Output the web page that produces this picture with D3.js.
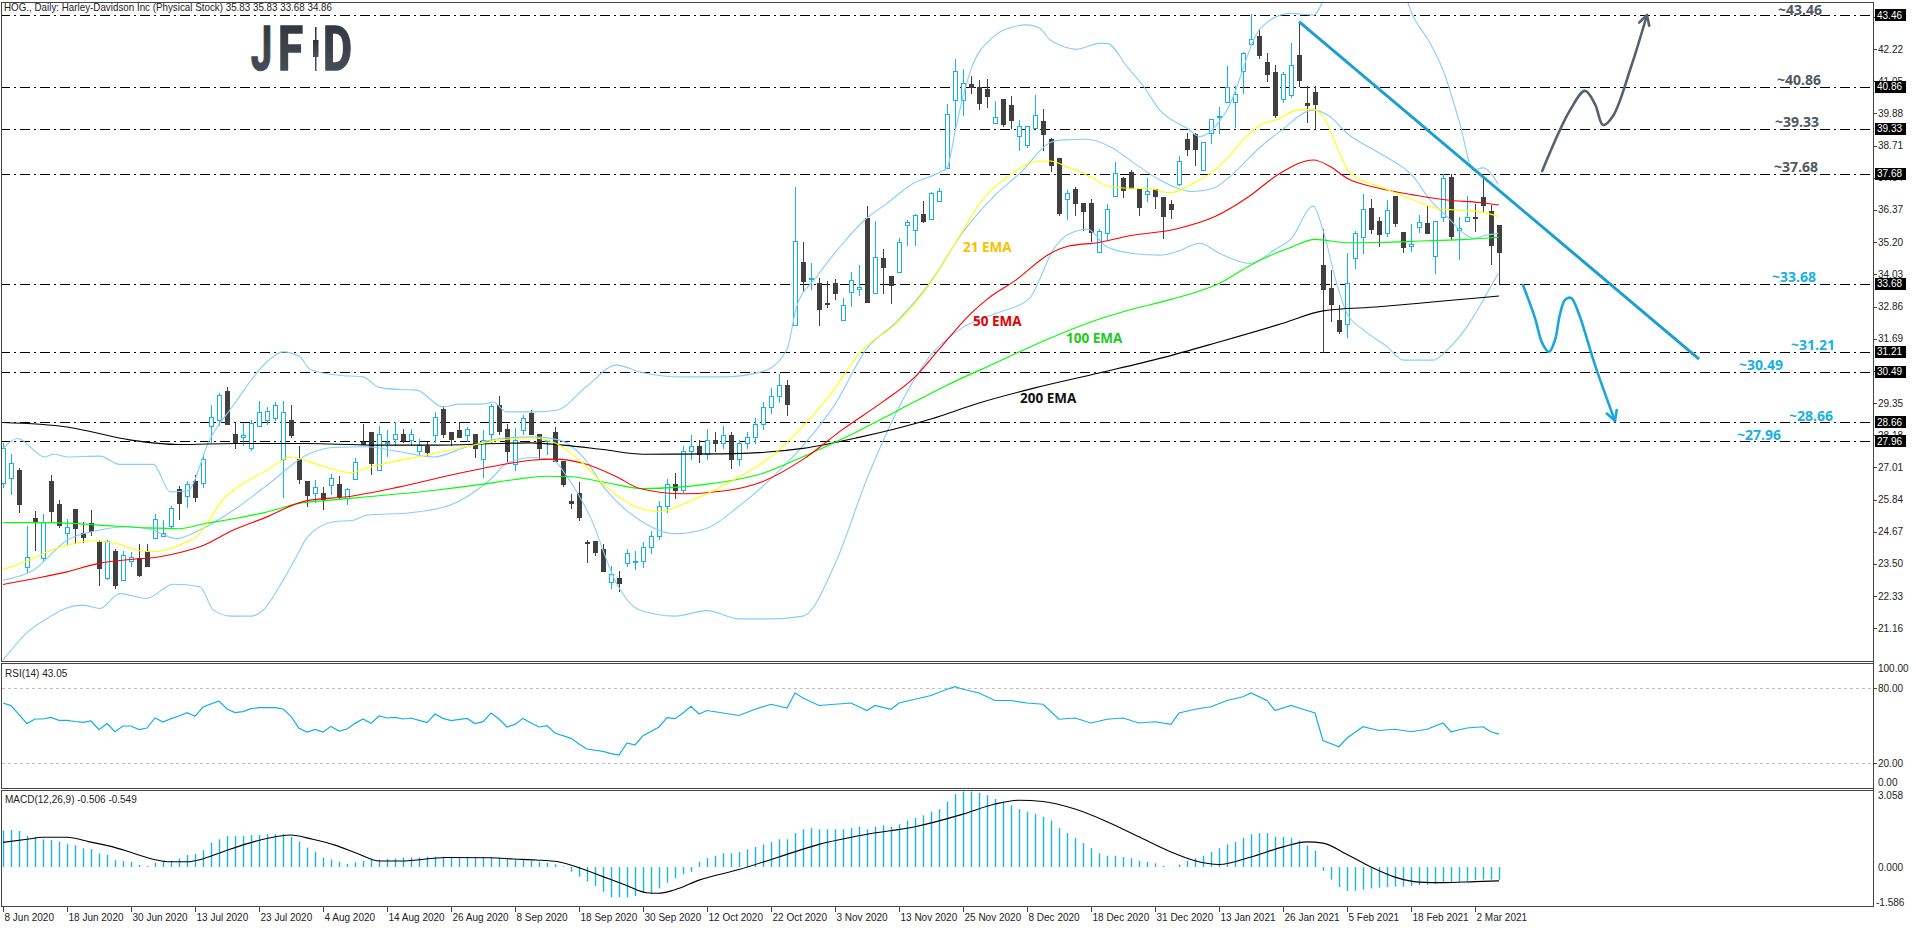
<!DOCTYPE html>
<html><head><meta charset="utf-8">
<script src="https://cdn.jsdelivr.net/npm/d3@7"></script>
<style>body{margin:0;background:#fff;overflow:hidden}svg{display:block}</style>
</head><body><svg id="c" width="1916" height="928"></svg>
<script>
// ---------------- DATA ----------------
const opens = [26.43,26.61,26.91,23.37,25.17,23.73,26.50,25.68,24.61,25.48,24.62,24.98,24.29,23.00,23.98,22.90,23.61,23.70,23.96,24.46,24.50,24.89,26.24,25.98,26.50,26.45,28.53,28.72,29.78,28.22,28.13,27.73,28.52,28.75,28.79,27.30,28.73,27.30,26.50,26.08,26.07,26.36,26.40,25.88,26.57,27.93,28.29,26.93,27.93,28.06,28.21,27.99,27.62,27.79,28.19,29.12,28.28,28.36,28.17,28.24,27.33,28.24,29.26,28.42,27.12,28.36,28.97,28.24,27.96,28.28,27.25,25.78,26.07,24.29,24.33,24.06,22.86,22.98,23.55,23.59,23.60,24.10,24.50,25.60,26.40,26.20,27.60,27.80,27.50,28.00,27.90,28.20,27.30,27.90,28.10,28.60,29.20,29.60,30.00,32.17,34.48,33.85,33.70,32.97,33.70,32.36,33.38,33.48,36.07,33.34,34.61,33.96,34.10,35.81,35.63,36.21,36.05,36.70,37.88,40.36,40.37,40.94,40.84,40.76,39.52,40.41,40.18,39.05,38.75,39.36,39.61,38.96,38.26,36.76,37.13,36.62,36.62,34.83,35.53,36.87,37.52,37.74,37.13,36.94,37.13,36.83,36.59,37.33,38.95,39.13,37.84,39.16,39.76,40.31,40.31,41.41,42.42,42.68,41.75,41.39,40.42,40.54,42.01,40.25,40.65,34.37,33.52,32.37,32.21,34.64,35.40,36.43,35.97,35.52,36.88,35.56,35.07,35.74,35.88,34.69,36.13,37.57,35.63,35.98,36.10,36.84,36.33,35.83];
const highs = [27.90,27.50,27.00,24.88,25.42,25.31,26.73,25.82,25.15,25.48,25.03,25.45,24.36,24.38,24.04,23.96,23.94,24.21,24.21,25.31,25.08,25.62,26.33,26.51,26.75,27.48,29.27,29.72,29.94,28.63,28.64,28.75,29.41,29.20,29.38,29.42,29.27,27.78,26.50,26.56,26.29,26.76,26.69,26.25,27.35,28.58,28.29,28.53,28.36,28.65,28.42,28.40,28.06,27.95,29.02,29.25,28.28,28.65,28.47,28.24,28.36,29.31,29.60,28.58,28.44,28.91,29.09,28.24,28.02,28.48,27.25,26.04,26.46,24.36,24.33,24.24,23.42,23.24,24.04,23.96,24.30,24.70,25.80,26.60,26.80,27.80,28.20,28.00,28.40,28.30,28.50,28.30,28.00,28.30,28.80,29.40,29.90,30.40,30.20,37.22,35.20,34.43,33.88,33.79,33.85,33.16,34.11,34.36,36.51,35.97,34.95,33.96,35.34,36.00,36.22,36.68,37.02,37.16,40.22,41.85,41.50,41.24,41.10,41.13,40.33,40.41,40.50,39.64,39.41,40.55,40.04,39.00,38.26,37.10,37.22,36.62,36.77,35.69,36.58,38.11,37.56,37.81,37.13,37.52,37.13,36.83,36.73,38.35,39.17,39.17,38.83,39.69,40.10,41.61,40.88,42.11,43.48,42.94,42.08,41.64,41.38,42.43,43.22,40.87,40.87,35.69,34.19,32.92,34.79,35.62,36.95,36.77,36.11,36.73,36.88,35.56,35.86,36.19,36.54,35.96,37.68,37.68,36.10,36.87,36.59,37.50,36.55,35.83];
const lows = [26.30,26.03,25.40,23.22,24.00,23.61,25.02,24.85,24.22,24.27,24.29,24.56,22.73,22.96,22.61,22.90,23.44,23.07,23.42,24.46,24.50,24.81,25.12,25.58,25.79,26.30,27.94,28.55,28.59,27.73,27.84,27.66,28.52,28.57,28.72,25.94,28.10,26.44,25.61,25.75,25.50,26.05,25.90,25.68,26.57,27.85,26.78,26.90,27.43,27.82,27.92,27.82,27.47,27.42,27.95,28.12,27.82,28.12,27.98,27.39,26.67,27.88,28.21,27.25,26.92,28.24,28.24,27.36,27.50,27.25,26.34,25.54,25.09,23.58,23.84,23.25,22.64,22.52,23.43,23.30,23.40,23.90,24.40,25.40,25.90,26.10,27.30,27.20,27.30,27.60,27.70,27.00,27.10,27.70,27.90,28.40,29.00,29.40,28.90,32.17,33.44,33.48,32.17,32.85,33.12,32.36,32.89,33.28,33.04,33.34,33.36,33.00,34.10,35.11,35.11,35.95,36.03,36.70,37.88,39.27,39.82,40.64,40.03,40.13,39.52,39.42,39.34,38.56,38.67,39.36,38.55,37.80,36.19,36.03,36.20,35.64,35.25,34.83,35.33,36.87,36.83,37.16,36.19,36.71,36.44,35.35,36.08,37.28,38.37,38.01,37.84,38.82,39.16,40.31,39.38,40.64,42.42,41.88,41.07,39.76,40.31,40.49,40.87,39.58,39.35,31.19,32.34,31.91,31.76,34.25,34.82,35.52,35.07,35.44,35.80,34.85,34.89,35.58,35.52,34.09,35.98,35.30,34.60,35.98,35.62,36.28,34.42,33.68];
const closes = [27.70,27.16,25.69,23.74,25.07,25.01,25.43,24.93,24.86,24.81,24.49,24.69,23.36,24.35,22.73,23.84,23.76,23.10,23.44,25.14,24.61,25.55,25.72,26.39,25.94,27.33,28.85,29.66,28.59,27.95,28.17,28.64,29.04,29.05,29.26,29.04,28.19,26.59,25.99,26.28,25.85,26.61,25.98,26.21,27.22,27.85,27.18,28.21,27.95,28.21,27.99,28.21,27.83,27.58,28.85,28.23,28.06,28.12,28.42,27.73,28.02,29.25,28.35,27.61,28.02,28.82,28.24,27.73,28.02,27.25,26.40,25.73,25.21,24.27,23.94,23.25,23.12,22.82,23.88,23.61,24.10,24.50,25.60,26.40,26.20,27.60,27.80,27.50,28.00,27.90,28.20,27.30,27.90,28.10,28.60,29.20,29.60,30.00,29.30,35.23,33.80,33.90,32.76,32.95,33.36,32.90,33.81,33.56,33.04,34.67,34.31,33.65,35.19,35.92,36.18,35.98,36.97,37.05,39.85,41.44,40.98,40.83,40.25,40.53,39.74,39.50,39.66,39.41,39.41,39.81,39.15,38.01,36.27,36.98,36.64,36.32,35.58,35.59,36.39,37.70,37.10,37.16,36.49,37.05,36.89,36.15,36.39,38.14,38.60,38.60,38.83,39.67,39.79,40.83,40.58,42.08,42.58,42.02,41.33,39.82,41.30,41.63,41.11,40.18,40.21,33.48,32.96,31.97,33.70,35.52,36.39,35.68,35.51,36.36,35.91,35.04,35.12,35.92,35.52,35.96,37.52,35.44,35.70,36.10,36.07,36.56,35.11,34.86];

// indicator samples: [bar index, value]
const ema21 = [[0,23.30],[3.8,23.70],[6,24.0],[8,24.18],[11.3,24.34],[14.2,24.24],[17.1,23.98],[18.8,23.94],[22.5,24.24],[24.6,24.6],[26,25.2],[27.5,25.85],[28.8,26.18],[33,26.91],[36,27.39],[38.4,27.21],[40.2,27.03],[43.6,26.82],[45.3,26.97],[48.6,27.21],[52.8,27.45],[57.8,27.76],[62,28.0],[66.2,28.08],[68.7,27.94],[72.5,27.15],[75.4,26.30],[79.6,25.52],[82,25.4],[86,25.8],[91,26.5],[96,27.4],[99,28.2],[103,29.5],[107.5,31.3],[111.7,32.25],[115.9,33.70],[118.8,35.04],[120.9,36.07],[122.1,36.61],[125.9,37.64],[129.2,38.13],[130.9,38.15],[133,37.94],[136.3,37.52],[138,37.25],[140.5,37.16],[143,37.16],[145.9,37.0],[148.8,37.34],[150.9,37.70],[153,38.25],[155,38.92],[157.2,39.46],[159.6,39.70],[161.7,40.0],[163.8,40.03],[165,39.76],[167.1,38.43],[168.4,37.70],[172.1,37.22],[176.3,36.73],[179.2,36.43],[182.5,36.35],[184.6,36.31],[186.9,36.13]];
const ema50 = [[0,22.75],[4,22.97],[8,23.21],[12,23.52],[16,23.66],[19.6,23.76],[22.5,23.94],[24.6,24.12],[28.8,24.73],[33,25.21],[37,25.72],[38.4,25.82],[43,25.94],[49.6,26.30],[56,26.73],[62,27.09],[66,27.27],[69,27.31],[72.6,27.15],[76.7,26.67],[79.6,26.24],[85,26.05],[90,26.15],[95,26.5],[100,27.3],[105,28.4],[110,29.4],[114,30.3],[117,31.3],[121,32.61],[123,33.12],[126.6,33.82],[130.8,34.77],[133,35.04],[137,35.19],[141,35.44],[146.5,35.67],[151.5,36.13],[155.7,36.85],[159.6,37.70],[163.8,38.19],[165.9,37.95],[168,37.52],[172,37.16],[176.3,36.92],[180.5,36.73],[184.6,36.64],[187,36.55]];
const ema100 = [[0,25.0],[6,25.0],[12,24.91],[18,24.81],[22,24.78],[25,24.95],[29,25.15],[33,25.39],[37,25.70],[41,25.82],[45.5,25.94],[54,26.18],[60,26.4],[64,26.57],[68,26.69],[71,26.67],[75,26.48],[80,26.24],[88,26.4],[95,26.8],[100,27.4],[106,28.2],[112,29.1],[118,30.0],[124,30.8],[130,31.6],[136,32.3],[141,32.75],[146,33.12],[152,33.70],[156,34.37],[159,34.79],[161,35.01],[164,35.30],[168,35.18],[172,35.19],[178,35.25],[183,35.30],[187,35.38]];
const ema200 = [[0,28.64],[8,28.48],[16,28.0],[22,27.84],[29,27.88],[38,27.88],[46,27.82],[54,27.82],[62,27.88],[66,27.9],[70,27.82],[75,27.66],[80,27.49],[90,27.5],[100,27.7],[107,28.1],[116,28.77],[122,29.35],[129,29.9],[137,30.44],[145,31.0],[152,31.57],[160,32.25],[165,32.7],[172,32.85],[180,33.06],[187,33.24]];
const bbUpper = [[0,27.70],[1.8,28.06],[5.2,27.39],[6.4,27.49],[8,27.39],[12.1,27.42],[14.6,27.12],[18.8,27.12],[20.9,26.12],[23,26.15],[25.9,28.06],[28.8,29.27],[33,30.85],[35,31.21],[37.1,31.03],[38.4,30.57],[42,30.36],[45,30.30],[47,29.92],[49.6,29.84],[51.7,29.82],[55,29.21],[57.1,29.31],[60,29.31],[61.3,29.39],[62.9,29.03],[66.3,29.03],[69.2,29.09],[72.9,29.94],[76.7,30.73],[79.6,30.48],[85,30.3],[90,30.3],[95,30.5],[98,31.3],[99.2,32.85],[101.7,33.94],[105,35.16],[107.5,35.95],[110.5,36.61],[113.8,37.34],[116.8,37.70],[118,37.9],[119,39.2],[120,40.5],[120.9,41.4],[123.8,42.67],[126.4,43.04],[128,43.10],[129.6,42.98],[130.9,42.55],[132.1,42.37],[134.2,42.21],[137.1,42.43],[138,42.43],[140.5,41.58],[142.6,40.85],[144.6,40.0],[148,39.34],[149.6,39.04],[153,40.0],[157.2,42.98],[160.9,43.52],[163.8,43.46],[166,44.6],[170,45.5],[174,45.0],[176.3,43.40],[178.4,42.43],[180,41.46],[182.1,39.52],[183.8,37.82],[185,37.9],[186,37.7],[186.9,37.3]];
const bbMiddle = [[0,22.91],[3.8,23.27],[8,24.36],[12.1,24.73],[15.5,24.85],[18.4,24.76],[21.7,24.42],[24.6,24.73],[28.8,25.45],[33,26.36],[38.4,27.52],[41.3,27.73],[45.4,27.76],[49.6,27.58],[53.8,27.39],[58,27.76],[62.1,28.06],[66.3,28.12],[69.6,28.0],[72.5,27.39],[75.4,26.18],[79.6,25.09],[84,24.6],[88,24.8],[92,25.6],[96,26.6],[100,27.8],[104,29.3],[107.9,31.3],[111.7,32.31],[115.8,33.70],[118.8,35.04],[119.6,35.40],[123.8,36.85],[127.1,37.70],[130.9,38.82],[132.1,38.91],[135.5,38.94],[138.4,38.67],[141.7,38.01],[144.6,37.46],[148.8,37.04],[151.3,37.16],[153.8,37.70],[157.2,38.67],[159.6,39.22],[163.8,40.0],[165.9,39.76],[168,39.16],[172.1,38.43],[176.3,37.58],[178.4,36.73],[180.5,36.13],[182.6,35.52],[183.8,35.34],[185.5,35.46],[186.9,35.52]];
const bbLower = [[0,20.0],[3,21.0],[6,21.6],[7.8,21.88],[10,22.0],[12.1,21.88],[14.6,22.42],[17.9,22.24],[21.3,22.76],[24.6,22.67],[26.3,21.82],[28.5,21.6],[31,21.6],[32.5,21.82],[35,22.9],[37,23.94],[37.9,24.42],[41.3,25.03],[43.8,25.09],[45.4,25.27],[50.9,25.36],[55.9,25.64],[59.2,26.18],[61.3,26.67],[62.9,27.15],[66.3,27.37],[68.8,27.27],[70.5,26.67],[73.4,25.21],[76.7,22.79],[79.6,21.82],[84,21.6],[88,21.8],[92,21.5],[96,21.5],[100,21.6],[104,23.5],[108,26.6],[112,29.2],[116,31.1],[120,32.1],[124,32.6],[128.2,33.12],[131.4,34.98],[133,35.46],[135.6,35.67],[137.9,35.04],[141.2,34.79],[144.6,34.73],[146.7,34.85],[149.6,35.16],[152.1,34.79],[155.9,34.43],[159.2,34.97],[160.9,35.28],[163.8,36.51],[165,35.64],[166.7,33.70],[168,32.61],[170.1,32.0],[173,31.40],[175.1,30.91],[178.8,30.91],[180.5,31.28],[183,32.13],[185.5,33.34],[186.9,34.06]];

const rsi = [[0,68.0],[1,65.9],[2,58.7],[3,51.5],[4,55.2],[5,55.2],[6,56.5],[7,54.1],[8,54.1],[9,53.2],[10,52.5],[11,53.6],[12,46.7],[13,51.5],[14,45.1],[15,49.6],[16,49.6],[17,46.7],[18,48.0],[19,56.0],[20,52.8],[21,55.5],[22,57.6],[23,60.3],[24,57.3],[25,64.8],[27,69.6],[28,63.2],[29,60.3],[30,61.1],[31,63.5],[32,64.3],[34,64.3],[35,63.2],[36,57.3],[37,47.7],[38,44.8],[39,46.9],[40,44.8],[41,49.3],[42,45.6],[43,47.2],[44,51.7],[45,55.2],[46,51.7],[47,57.6],[48,56.0],[49,56.5],[50,55.2],[51,56.0],[52,54.1],[53,52.3],[54,59.2],[55,55.7],[56,53.9],[58,55.7],[59,51.5],[60,53.1],[61,60.0],[62,55.2],[63,48.8],[64,50.9],[65,55.7],[66,52.0],[67,48.8],[68,49.9],[69,44.0],[71,39.7],[72,35.2],[73,31.2],[75,29.3],[76,27.5],[77,26.4],[78,36.0],[79,34.4],[80,41.9],[82,48.8],[83,56.3],[84,55.5],[85,60.0],[86,65.3],[87,59.2],[88,62],[90,60],[92,58],[94,63],[96,67],[98,64],[99,76],[100,72],[102,66],[104,67],[106,68],[108,62],[109,66],[111,63],[112,68],[114,71],[116,74],[118,79],[119,81],[120,79],[122,76],[124,70],[126,70],[128,68],[130,67],[132,55],[134,56],[136,52],[138,55],[140,56],[142,52],[144,53],[146,51],[147,60],[149,63],[151,65],[153,70],[155,73],[156,76],[158,70],[159,62],[161,66],[162,64],[164,60],[165,38],[167,33],[168,40],[170,49],[172,46],[174,47],[176,45],[178,47],[180,52],[181,45],[183,48],[185,49],[186,45],[187,43.05]];

const macdHist = [1.45,1.47,1.43,1.23,1.18,1.10,1.07,1.01,0.91,0.87,0.74,0.71,0.54,0.48,0.28,0.24,0.20,0.08,0.04,0.17,0.21,0.25,0.34,0.48,0.52,0.67,0.97,1.10,1.23,1.23,1.23,1.27,1.27,1.31,1.31,1.31,1.20,1.01,0.77,0.61,0.38,0.30,0.21,0.13,0.19,0.24,0.28,0.30,0.32,0.34,0.38,0.38,0.38,0.41,0.41,0.41,0.38,0.37,0.38,0.38,0.38,0.38,0.37,0.33,0.30,0.28,0.24,0.21,0.17,0.11,0.03,-0.19,-0.38,-0.58,-0.75,-0.98,-1.20,-1.20,-1.20,-1.15,-0.98,-1.05,-0.85,-0.62,-0.45,-0.28,-0.19,0.21,0.35,0.45,0.55,0.55,0.6,0.7,0.8,0.9,1.0,1.1,1.1,1.35,1.5,1.55,1.5,1.5,1.5,1.5,1.55,1.6,1.5,1.6,1.65,1.6,1.7,1.85,1.95,2.05,2.2,2.3,2.6,2.9,3.0,3.0,2.95,2.85,2.7,2.6,2.45,2.3,2.2,2.1,2.0,1.85,1.55,1.35,1.15,0.95,0.75,0.55,0.45,0.45,0.4,0.35,0.25,0.2,0.15,0.05,0.0,0.1,0.25,0.35,0.45,0.6,0.75,0.9,1.0,1.15,1.3,1.35,1.35,1.2,1.2,1.15,1.05,0.85,0.65,-0.15,-0.5,-0.8,-0.95,-0.95,-0.9,-0.85,-0.82,-0.8,-0.78,-0.78,-0.75,-0.72,-0.7,-0.68,-0.6,-0.6,-0.58,-0.55,-0.52,-0.5,-0.5,-0.506];
const macdSignal = [[0,0.98],[3,1.10],[5,1.18],[8,1.18],[10.8,1.0],[13.6,0.81],[16.4,0.54],[19.2,0.28],[20.8,0.21],[23.1,0.21],[24.7,0.30],[27.5,0.61],[30.3,0.91],[33.1,1.14],[35.9,1.27],[38.7,1.10],[41.5,0.87],[44.3,0.54],[47.1,0.24],[49.8,0.24],[55.4,0.38],[61,0.37],[63.8,0.32],[66.6,0.28],[69.4,0.21],[72.2,-0.05],[75,-0.38],[77.8,-0.71],[80.5,-1.02],[81.9,-1.04],[83.9,-0.91],[87,-0.52],[92,-0.1],[97,0.4],[102,0.9],[108,1.3],[114,1.6],[120,2.1],[124,2.5],[127,2.65],[130,2.6],[134,2.3],[138,1.8],[142,1.2],[146,0.6],[149,0.25],[152,0.1],[156,0.4],[160,0.8],[163,1.0],[165,0.95],[168,0.5],[171,0.0],[174,-0.4],[177,-0.6],[180,-0.62],[184,-0.58],[187,-0.549]];

const xTickLabels = ["8 Jun 2020","18 Jun 2020","30 Jun 2020","13 Jul 2020","23 Jul 2020","4 Aug 2020","14 Aug 2020","26 Aug 2020","8 Sep 2020","18 Sep 2020","30 Sep 2020","12 Oct 2020","22 Oct 2020","3 Nov 2020","13 Nov 2020","25 Nov 2020","8 Dec 2020","18 Dec 2020","31 Dec 2020","13 Jan 2021","26 Jan 2021","5 Feb 2021","18 Feb 2021","2 Mar 2021"];
const priceTicks = [43.39,42.22,41.05,39.88,38.71,37.54,36.37,35.20,34.03,32.86,31.69,30.52,29.35,28.18,27.01,25.84,24.67,23.50,22.33,21.16];
const levels = [43.46,40.86,39.33,37.68,33.68,31.21,30.49,28.66,27.96];
const rsiTicks = [100,80,20,0];
const macdTicks = [3.058,0,-1.586];
const trendline = [[162,43.22],[212,30.95]];
const upArrow = [[192.4,37.79],[195.9,40.01],[197.75,40.70],[199.0,40.22],[200.0,39.46],[201.25,39.79],[203.5,41.57],[205.5,43.46]];
const downArrow = [[190,33.64],[191.5,32.44],[192.4,31.53],[193.25,31.21],[194,31.64],[194.6,32.55],[195.25,33.10],[196,33.17],[196.9,32.66],[199,30.73],[201.5,28.70]];
const headerText = "HOG., Daily:  Harley-Davidson Inc (Physical Stock)  35.83 35.83 33.68 34.86";

// ---------------- LAYOUT ----------------
const W = 1916, H = 928, axisX = 1873;
const svg = d3.select('#c');
const x = d3.scaleLinear().domain([0, 187]).range([3, 1499]);
const y = d3.scaleLinear().domain([21.16, 43.46]).range([628.25, 15]);
const yR = d3.scaleLinear().domain([0, 100]).range([788, 663]);
const yM = d3.scaleLinear().domain([-1.586, 3.058]).range([907, 790]);
const FONT = "'Liberation Sans', Arial, sans-serif";
const BOLD = "'Open Sans', Lato, sans-serif";
const BULL = '#13b3e6', BEAR = '#404040', BB = '#87cefa';

svg.append('rect').attr('width', W).attr('height', H).attr('fill', '#fff');
const defs = svg.append('defs');
function clip(id, x0, y0, w, h) { defs.append('clipPath').attr('id', id).append('rect').attr('x', x0).attr('y', y0).attr('width', w).attr('height', h); }
clip('cm', 2, 3, axisX - 2, 658);
clip('cr', 2, 664, axisX - 2, 124);
clip('cq', 2, 791, axisX - 2, 116);

// ---------------- MAIN PANEL ----------------
const gm = svg.append('g').attr('clip-path', 'url(#cm)');
const px = v => Math.round(v) + 0.5;

gm.selectAll('line.lvl').data(levels).join('line')
  .attr('x1', 0).attr('x2', axisX).attr('y1', d => px(y(d))).attr('y2', d => px(y(d)))
  .attr('stroke', '#000').attr('stroke-width', 1).attr('stroke-dasharray', '10,4,2,4');

const bars = d3.range(opens.length);
gm.selectAll('line.wick').data(bars).join('line')
  .attr('x1', i => x(i) + 0.5).attr('x2', i => x(i) + 0.5)
  .attr('y1', i => Math.round(y(highs[i]))).attr('y2', i => Math.round(y(lows[i])) + 1)
  .attr('stroke', i => closes[i] >= opens[i] ? BULL : BEAR).attr('stroke-width', 1);
gm.selectAll('rect.body').data(bars).join('rect')
  .attr('x', i => x(i) - 1.5)
  .attr('y', i => Math.round(y(Math.max(opens[i], closes[i]))) + 0.5)
  .attr('width', 4)
  .attr('height', i => Math.max(1, Math.round(y(Math.min(opens[i], closes[i]))) - Math.round(y(Math.max(opens[i], closes[i])))))
  .attr('fill', i => closes[i] >= opens[i] ? '#fff' : BEAR)
  .attr('stroke', i => closes[i] >= opens[i] ? BULL : BEAR).attr('stroke-width', 1);

const lineP = d3.line().x(d => x(d[0])).y(d => y(d[1])).curve(d3.curveMonotoneX);
[[bbUpper, BB], [bbMiddle, BB], [bbLower, BB], [ema200, '#000'], [ema100, '#00ff00'], [ema50, '#ff0000'], [ema21, '#ffff00']]
  .forEach(([d, c]) => gm.append('path').attr('d', lineP(d)).attr('fill', 'none').attr('stroke', c).attr('stroke-width', 1.1));

gm.append('path').attr('d', d3.line().x(d => x(d[0])).y(d => y(d[1]))(trendline))
  .attr('stroke', '#1b9fd1').attr('stroke-width', 3).attr('fill', 'none');

function arrow(pts, color) {
  const p = pts.map(d => [x(d[0]), y(d[1])]);
  gm.append('path').attr('d', d3.line().curve(d3.curveCatmullRom.alpha(0.5))(p))
    .attr('fill', 'none').attr('stroke', color).attr('stroke-width', 2.6).attr('stroke-linecap', 'round');
  const a = p[p.length - 1], b = p[p.length - 2];
  const ang = Math.atan2(a[1] - b[1], a[0] - b[0]);
  const L = 11;
  const h1 = [a[0] - L * Math.cos(ang - 0.5), a[1] - L * Math.sin(ang - 0.5)];
  const h2 = [a[0] - L * Math.cos(ang + 0.5), a[1] - L * Math.sin(ang + 0.5)];
  gm.append('path').attr('d', d3.line()([h1, a, h2])).attr('fill', 'none').attr('stroke', color)
    .attr('stroke-width', 2.6).attr('stroke-linecap', 'round').attr('stroke-linejoin', 'round');
}
arrow(upArrow, '#56616c');
arrow(downArrow, '#1aa6d9');

// level labels (drawn unclipped)
const levelLabelRight = [1822, 1821, 1819, 1818, 1816, 1835, 1783, 1833, 1781];
svg.append('g').selectAll('text').data(levels).join('text')
  .attr('x', (d, i) => levelLabelRight[i]).attr('y', d => Math.max(15, y(d) - 1.5))
  .attr('text-anchor', 'end').attr('font-family', BOLD).attr('font-weight', 700).attr('font-size', 14)
  .attr('fill', (d, i) => i < 4 ? '#4e5964' : '#19b0e4')
  .text(d => '~' + d.toFixed(2));

const emaLabels = [["21 EMA", '#f5c200', 963, 252], ["50 EMA", '#e60000', 973, 326], ["100 EMA", '#1ccc1c', 1066, 343], ["200 EMA", '#111', 1020, 403]];
emaLabels.forEach(([t, c, lx, ly]) => gm.append('text').attr('x', lx).attr('y', ly).attr('font-family', BOLD)
  .attr('font-weight', 700).attr('font-size', 13.5).attr('fill', c).text(t));

// logo
const grad = defs.append('linearGradient').attr('id', 'lg').attr('x1', 0).attr('x2', 0).attr('y1', 0).attr('y2', 1);
grad.append('stop').attr('offset', 0).attr('stop-color', '#2e333b');
grad.append('stop').attr('offset', 1).attr('stop-color', '#4d535c');
const logo = svg.append('g').attr('fill', 'url(#lg)').attr('stroke', 'url(#lg)').attr('stroke-width', 1.6)
  .attr('font-family', "Roboto, 'Liberation Sans', sans-serif").attr('font-weight', 700).attr('font-size', 61);
logo.append('text').attr('x', 251).attr('y', 70).attr('textLength', 21).attr('lengthAdjust', 'spacingAndGlyphs').text('J');
logo.append('text').attr('x', 278).attr('y', 70).attr('textLength', 25).attr('lengthAdjust', 'spacingAndGlyphs').text('F');
logo.append('rect').attr('x', 315).attr('y', 27).attr('width', 1.5).attr('height', 44).attr('stroke', 'none');
logo.append('rect').attr('x', 313).attr('y', 40).attr('width', 5.5).attr('height', 17).attr('stroke', 'none');
logo.append('text').attr('x', 323).attr('y', 70).attr('textLength', 29).attr('lengthAdjust', 'spacingAndGlyphs').text('D');

svg.append('text').attr('x', 4).attr('y', 11).attr('font-family', FONT).attr('font-size', 10.5)
  .attr('textLength', 328).attr('lengthAdjust', 'spacingAndGlyphs').attr('fill', '#222').text(headerText);

// ---------------- RSI PANEL ----------------
const gr = svg.append('g').attr('clip-path', 'url(#cr)');
[80, 20].forEach(v => gr.append('line').attr('x1', 2).attr('x2', axisX).attr('y1', px(yR(v))).attr('y2', px(yR(v)))
  .attr('stroke', '#c0c0c0').attr('stroke-dasharray', '3,3'));
gr.append('path').attr('d', d3.line().x(d => x(d[0])).y(d => yR(d[1]))(rsi))
  .attr('fill', 'none').attr('stroke', '#10b0e4').attr('stroke-width', 1.2);
svg.append('text').attr('x', 5).attr('y', 677).attr('font-family', FONT).attr('font-size', 10).attr('fill', '#222').text('RSI(14) 43.05');

// ---------------- MACD PANEL ----------------
const gq = svg.append('g').attr('clip-path', 'url(#cq)');
gq.selectAll('line.h').data(bars).join('line')
  .attr('x1', i => x(i) + 0.5).attr('x2', i => x(i) + 0.5)
  .attr('y1', yM(0)).attr('y2', i => yM(macdHist[i]))
  .attr('stroke', '#18b6e6').attr('stroke-width', 1.4);
gq.append('path').attr('d', d3.line().x(d => x(d[0])).y(d => yM(d[1])).curve(d3.curveMonotoneX)(macdSignal))
  .attr('fill', 'none').attr('stroke', '#000').attr('stroke-width', 1.1);
svg.append('text').attr('x', 5).attr('y', 803).attr('font-family', FONT).attr('font-size', 10).attr('fill', '#222').text('MACD(12,26,9) -0.506 -0.549');

// ---------------- FRAMES & AXES ----------------
const frame = svg.append('g').attr('fill', 'none').attr('stroke', '#444').attr('stroke-width', 1);
frame.append('rect').attr('x', 1.5).attr('y', 2.5).attr('width', axisX - 1).attr('height', 659);
frame.append('rect').attr('x', 1.5).attr('y', 663.5).attr('width', axisX - 1).attr('height', 125);
frame.append('rect').attr('x', 1.5).attr('y', 790.5).attr('width', axisX - 1).attr('height', 116);

const pa = svg.append('g').attr('font-family', FONT).attr('font-size', 10).attr('fill', '#222');
priceTicks.forEach(v => {
  pa.append('line').attr('x1', axisX).attr('x2', axisX + 4).attr('y1', px(y(v))).attr('y2', px(y(v))).attr('stroke', '#444');
  pa.append('text').attr('x', axisX + 5).attr('y', y(v)).attr('dy', '0.35em').text(v.toFixed(2));
});
levels.forEach(v => {
  pa.append('rect').attr('x', axisX + 2).attr('y', Math.round(y(v)) - 6).attr('width', 31).attr('height', 12).attr('fill', '#000');
  pa.append('text').attr('x', axisX + 4).attr('y', y(v)).attr('dy', '0.35em').attr('fill', '#fff').text(v.toFixed(2));
});
rsiTicks.forEach(v => {
  const yy = v === 100 ? yR(v) + 5 : v === 0 ? yR(v) - 6 : yR(v);
  if (v === 80 || v === 20) pa.append('line').attr('x1', axisX).attr('x2', axisX + 4).attr('y1', px(yR(v))).attr('y2', px(yR(v))).attr('stroke', '#444');
  pa.append('text').attr('x', axisX + 5).attr('y', yy).attr('dy', '0.35em').text(v.toFixed(2));
});
macdTicks.forEach(v => {
  const yy = v === 3.058 ? yM(v) + 5 : v === -1.586 ? yM(v) - 5 : yM(v);
  pa.append('text').attr('x', axisX + (v < 0 ? 3 : 5)).attr('y', yy).attr('dy', '0.35em').text(v.toFixed(3));
});
svg.append('line').attr('x1', axisX + 0.5).attr('x2', axisX + 0.5).attr('y1', 2).attr('y2', 907).attr('stroke', '#444');

const ta = svg.append('g').attr('font-family', FONT).attr('font-size', 10).attr('fill', '#222');
xTickLabels.forEach((t, k) => {
  const xx = Math.round(x(k * 8)) + 0.5;
  ta.append('line').attr('x1', xx).attr('x2', xx).attr('y1', 907).attr('y2', 912).attr('stroke', '#444');
  ta.append('text').attr('x', xx + 1).attr('y', 921).text(t);
});
</script></body></html>
